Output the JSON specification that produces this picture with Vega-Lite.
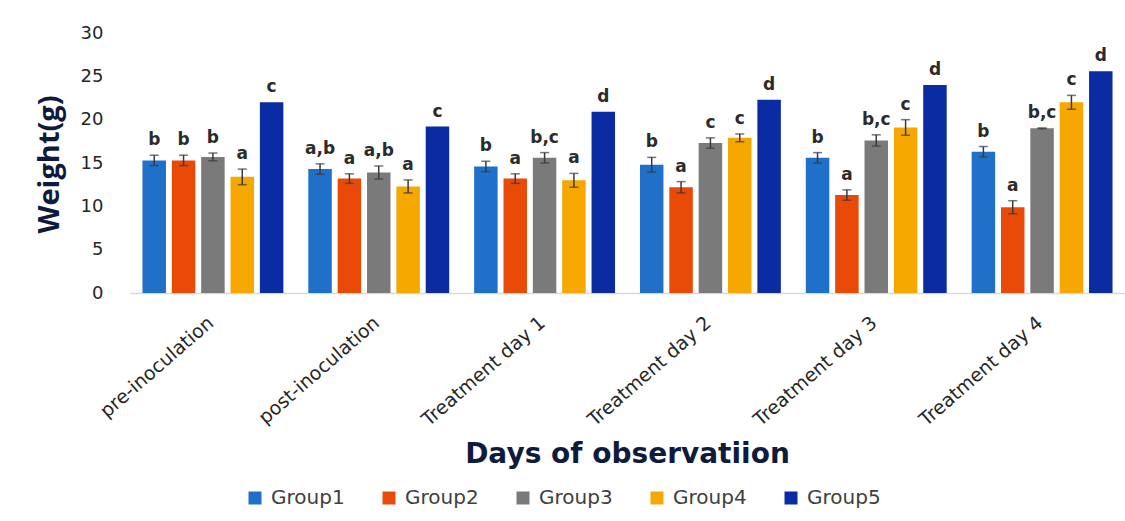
{
  "$schema": "https://vega.github.io/schema/vega-lite/v6.json",
  "autosize": {"type": "none"},
  "padding": {"left": 130, "top": 33, "right": 0, "bottom": 228},
  "width": 995,
  "height": 260,
  "background": "white",
  "config": {"view": {"stroke": null}, "font": "Open Sans"},
  "data": {"values": [
    {"day": "pre-inoculation", "group": "Group1", "weight": 15.3, "lo": 14.7, "hi": 15.9, "letter": "b"},
    {"day": "pre-inoculation", "group": "Group2", "weight": 15.3, "lo": 14.7, "hi": 15.9, "letter": "b"},
    {"day": "pre-inoculation", "group": "Group3", "weight": 15.7, "lo": 15.25, "hi": 16.15, "letter": "b"},
    {"day": "pre-inoculation", "group": "Group4", "weight": 13.4, "lo": 12.5, "hi": 14.3, "letter": "a"},
    {"day": "pre-inoculation", "group": "Group5", "weight": 22.0, "lo": null, "hi": null, "letter": "c"},
    {"day": "post-inoculation", "group": "Group1", "weight": 14.3, "lo": 13.7, "hi": 14.9, "letter": "a,b"},
    {"day": "post-inoculation", "group": "Group2", "weight": 13.2, "lo": 12.65, "hi": 13.75, "letter": "a"},
    {"day": "post-inoculation", "group": "Group3", "weight": 13.9, "lo": 13.15, "hi": 14.65, "letter": "a,b"},
    {"day": "post-inoculation", "group": "Group4", "weight": 12.3, "lo": 11.55, "hi": 13.05, "letter": "a"},
    {"day": "post-inoculation", "group": "Group5", "weight": 19.2, "lo": null, "hi": null, "letter": "c"},
    {"day": "Treatment day 1", "group": "Group1", "weight": 14.6, "lo": 14.0, "hi": 15.2, "letter": "b"},
    {"day": "Treatment day 1", "group": "Group2", "weight": 13.2, "lo": 12.65, "hi": 13.75, "letter": "a"},
    {"day": "Treatment day 1", "group": "Group3", "weight": 15.6, "lo": 15.0, "hi": 16.2, "letter": "b,c"},
    {"day": "Treatment day 1", "group": "Group4", "weight": 13.0, "lo": 12.2, "hi": 13.8, "letter": "a"},
    {"day": "Treatment day 1", "group": "Group5", "weight": 20.9, "lo": null, "hi": null, "letter": "d"},
    {"day": "Treatment day 2", "group": "Group1", "weight": 14.8, "lo": 13.95, "hi": 15.65, "letter": "b"},
    {"day": "Treatment day 2", "group": "Group2", "weight": 12.2, "lo": 11.55, "hi": 12.85, "letter": "a"},
    {"day": "Treatment day 2", "group": "Group3", "weight": 17.3, "lo": 16.7, "hi": 17.9, "letter": "c"},
    {"day": "Treatment day 2", "group": "Group4", "weight": 17.9, "lo": 17.45, "hi": 18.35, "letter": "c"},
    {"day": "Treatment day 2", "group": "Group5", "weight": 22.3, "lo": null, "hi": null, "letter": "d"},
    {"day": "Treatment day 3", "group": "Group1", "weight": 15.6, "lo": 15.0, "hi": 16.2, "letter": "b"},
    {"day": "Treatment day 3", "group": "Group2", "weight": 11.3, "lo": 10.7, "hi": 11.9, "letter": "a"},
    {"day": "Treatment day 3", "group": "Group3", "weight": 17.6, "lo": 16.95, "hi": 18.25, "letter": "b,c"},
    {"day": "Treatment day 3", "group": "Group4", "weight": 19.1, "lo": 18.2, "hi": 20.0, "letter": "c"},
    {"day": "Treatment day 3", "group": "Group5", "weight": 24.0, "lo": null, "hi": null, "letter": "d"},
    {"day": "Treatment day 4", "group": "Group1", "weight": 16.3, "lo": 15.7, "hi": 16.9, "letter": "b"},
    {"day": "Treatment day 4", "group": "Group2", "weight": 9.9, "lo": 9.15, "hi": 10.65, "letter": "a"},
    {"day": "Treatment day 4", "group": "Group3", "weight": 19.0, "lo": 18.95, "hi": 19.05, "letter": "b,c"},
    {"day": "Treatment day 4", "group": "Group4", "weight": 22.0, "lo": 21.2, "hi": 22.8, "letter": "c"},
    {"day": "Treatment day 4", "group": "Group5", "weight": 25.6, "lo": null, "hi": null, "letter": "d"}
  ]},
  "encoding": {
    "x": {
      "field": "day", "type": "nominal", "sort": null,
      "scale": {"paddingInner": 0.115, "paddingOuter": 0.0575},
      "axis": {
        "title": "Days of observatiion",
        "titleFont": "DejaVu Sans", "titleFontSize": 28, "titleFontWeight": "bold", "titleColor": "#0F1B3D",
        "titleX": 497, "titleY": 169, "titleAlign": "center", "titleBaseline": "alphabetic",
        "labelFont": "DejaVu Sans", "labelAngle": -41, "labelFontSize": 19, "labelColor": "#262626",
        "labelPadding": 20, "labelOffset": -8,
        "ticks": false, "domainColor": "#D9D9D9", "domainWidth": 1.5, "grid": false
      }
    },
    "xOffset": {
      "field": "group", "type": "nominal",
      "scale": {"paddingInner": 0.2, "paddingOuter": 0.1}
    }
  },
  "layer": [
    {
      "mark": {"type": "bar"},
      "encoding": {
        "y": {
          "field": "weight", "type": "quantitative",
          "scale": {"domain": [0, 30]},
          "axis": {
            "title": "Weight(g)", "values": [0, 5, 10, 15, 20, 25, 30],
            "titleFont": "Open Sans", "titleFontSize": 29, "titleFontWeight": "bold", "titleColor": "#0F1B3D",
            "titleX": -66, "titleY": 131, "titleAngle": -90, "titleAlign": "center", "titleBaseline": "bottom",
            "labelFont": "DejaVu Sans", "labelFontSize": 18, "labelColor": "#262626", "labelPadding": 27,
            "ticks": false, "domain": false, "grid": false
          }
        },
        "color": {
          "field": "group", "type": "nominal",
          "scale": {"domain": ["Group1", "Group2", "Group3", "Group4", "Group5"],
                    "range": ["#1F70C8", "#EA4A08", "#7A7A7A", "#F6A800", "#0B2BA3"]},
          "legend": {
            "title": null, "orient": "none", "direction": "horizontal",
            "legendX": 115, "legendY": 455,
            "symbolType": "square", "symbolSize": 169, "symbolStrokeWidth": 0,
            "labelFont": "DejaVu Sans", "labelFontSize": 20, "labelColor": "#404040", "labelOffset": 6,
            "columnPadding": 34, "symbolOffset": 0
          }
        }
      }
    },
    {
      "mark": {"type": "rule", "color": "#3A3A3A", "strokeWidth": 1.5},
      "encoding": {
        "y": {"field": "lo", "type": "quantitative"},
        "y2": {"field": "hi"}
      }
    },
    {
      "mark": {"type": "tick", "color": "#3A3A3A", "size": 9, "thickness": 1.5},
      "encoding": {"y": {"field": "lo", "type": "quantitative"}}
    },
    {
      "mark": {"type": "tick", "color": "#3A3A3A", "size": 9, "thickness": 1.5},
      "encoding": {"y": {"field": "hi", "type": "quantitative"}}
    },
    {
      "transform": [{"calculate": "datum.hi != null ? datum.hi : datum.weight", "as": "top"}],
      "mark": {"type": "text", "font": "DejaVu Sans", "fontSize": 17, "fontWeight": "bold", "color": "#2B2B2B", "dy": -10, "baseline": "alphabetic"},
      "encoding": {
        "y": {"field": "top", "type": "quantitative"},
        "text": {"field": "letter"}
      }
    }
  ]
}
